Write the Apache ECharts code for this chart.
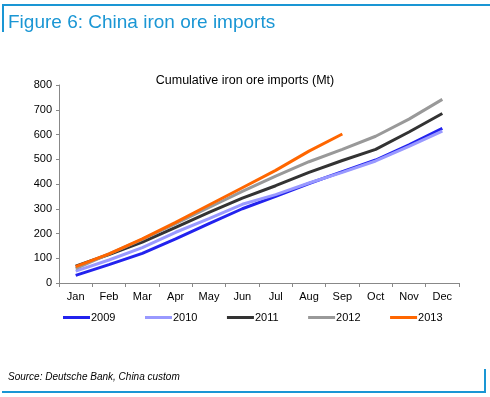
<!DOCTYPE html>
<html>
<head>
<meta charset="utf-8">
<script src="https://cdn.jsdelivr.net/npm/echarts@6/dist/echarts.min.js"></script>
<style>
  html, body { margin: 0; padding: 0; background: #fff; }
</style>
</head>
<body>
<div id="ironOreChart" style="width: 490px; height: 397px;"></div>
<script>
// months on the x axis
const months = ['Jan', 'Feb', 'Mar', 'Apr', 'May', 'Jun', 'Jul', 'Aug', 'Sep', 'Oct', 'Nov', 'Dec']
// cumulative imports, Mt
const imports2009 = [31, 74, 120, 178, 240, 300, 350, 402, 450, 497, 558, 625]
const imports2010 = [48, 93, 143, 205, 260, 318, 357, 404, 447, 493, 552, 614]
const imports2011 = [68, 115, 165, 225, 285, 343, 393, 447, 495, 540, 610, 685]
const imports2012 = [58, 118, 176, 240, 305, 370, 432, 490, 540, 593, 662, 742]
const imports2013 = [66, 118, 178, 245, 315, 385, 455, 533, 602]
const yearNames = ['2009', '2010', '2011', '2012', '2013']
const yearColors = ['#2222ee', '#9999ff', '#333333', '#999999', '#ff6600']

const blue = '#1a96d4'
const chart = echarts.init(document.getElementById('ironOreChart'))

function makeSeries(name, data, color) {
  return {
    name: name,
    type: 'line',
    data: data,
    showSymbol: false,
    symbol: 'none',
    lineStyle: { color: color, width: 3 },
    itemStyle: { color: color },
    emphasis: { disabled: true }
  }
}

chart.setOption({
  animation: false,
  title: [
    {
      text: 'Figure 6: China iron ore imports',
      left: 3,
      top: 8,
      textStyle: { color: blue, fontFamily: 'Liberation Sans', fontSize: 19, fontWeight: 'normal' }
    },
    {
      text: 'Cumulative iron ore imports (Mt)',
      left: 240,
      textAlign: 'center',
      top: 69,
      textStyle: { color: '#000', fontFamily: 'Liberation Sans', fontSize: 12.5, fontWeight: 'normal' }
    },
    {
      text: 'Source: Deutsche Bank, China custom',
      left: 3,
      top: 367,
      textStyle: { color: '#000', fontFamily: 'Liberation Sans', fontSize: 10, fontStyle: 'italic', fontWeight: 'normal' }
    }
  ],
  graphic: [
    { type: 'rect', shape: { x: 2, y: 4, width: 488, height: 2 }, style: { fill: blue } },
    { type: 'rect', shape: { x: 2, y: 4, width: 2, height: 28 }, style: { fill: blue } },
    { type: 'rect', shape: { x: 2, y: 391, width: 484, height: 2 }, style: { fill: blue } },
    { type: 'rect', shape: { x: 484, y: 369, width: 2, height: 24 }, style: { fill: blue } }
  ],
  legend: {
    data: yearNames.map(n => ({ name: n, icon: 'rect' })),
    left: 58,
    top: 307,
    itemWidth: 27,
    itemHeight: 3,
    itemGap: 29.5,
    textStyle: { color: '#000', fontFamily: 'Liberation Sans', fontSize: 11, padding: [0, 0, 0, -4] }
  },
  grid: { left: 59, right: 31, top: 85, bottom: 114, containLabel: false },
  xAxis: {
    type: 'category',
    data: months,
    boundaryGap: true,
    axisLine: { lineStyle: { color: '#888', width: 1 } },
    axisTick: { show: true, length: 4, inside: false, lineStyle: { color: '#888' } },
    axisLabel: { color: '#000', fontFamily: 'Liberation Sans', fontSize: 11, margin: 8 },
    splitLine: { show: false }
  },
  yAxis: {
    type: 'value',
    min: 0,
    max: 800,
    interval: 100,
    axisLine: { show: true, lineStyle: { color: '#888', width: 1 } },
    axisTick: { show: true, length: 3, lineStyle: { color: '#888' } },
    axisLabel: { color: '#000', fontFamily: 'Liberation Sans', fontSize: 11, margin: 7 },
    splitLine: { show: false }
  },
  series: [
    makeSeries(yearNames[0], imports2009, yearColors[0]),
    makeSeries(yearNames[1], imports2010, yearColors[1]),
    makeSeries(yearNames[2], imports2011, yearColors[2]),
    makeSeries(yearNames[3], imports2012, yearColors[3]),
    makeSeries(yearNames[4], imports2013, yearColors[4])
  ]
})
</script>
</body>
</html>
